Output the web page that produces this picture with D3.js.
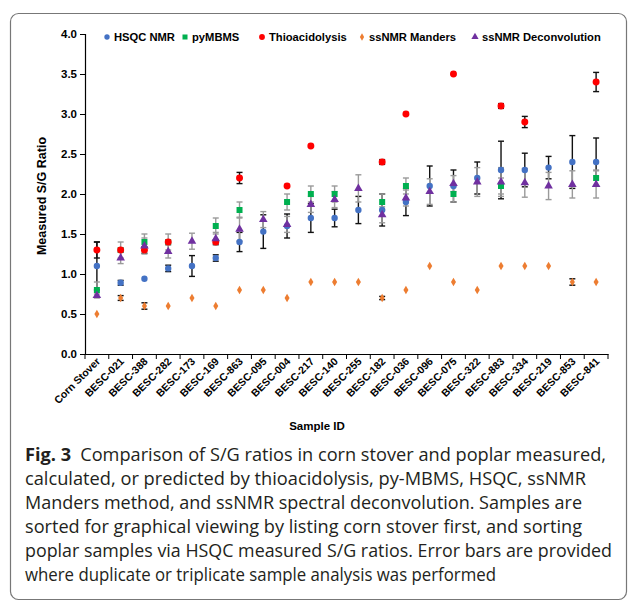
<meta charset="utf-8">
<head>
<script src="https://d3js.org/d3.v7.min.js"></script>
<style>
  body { margin: 0; background: #fff; }
</style>
</head>
<body>
<div id="container"></div>
<script>

var categories = ["Corn Stover","BESC-021","BESC-388","BESC-282","BESC-173","BESC-169","BESC-863","BESC-095",
  "BESC-004","BESC-217","BESC-140","BESC-255","BESC-182","BESC-036","BESC-096","BESC-075","BESC-322",
  "BESC-883","BESC-334","BESC-219","BESC-853","BESC-841"];

var hsqc     = [1.10,0.89,0.94,1.07,1.10,1.20,1.40,1.53,1.60,1.70,1.70,1.80,1.80,1.90,2.10,2.10,2.20,2.30,2.30,2.33,2.40,2.40];
var hsqcErr  = [0.30,0.03,null,0.04,0.13,0.04,0.12,0.21,0.15,0.18,0.11,0.17,0.20,0.17,0.25,0.20,0.20,0.36,0.21,0.14,0.33,0.30];

var pymbms    = [0.80,1.30,1.40,1.40,null,1.60,1.80,null,1.90,2.00,2.00,null,1.90,2.10,null,2.00,null,2.10,null,null,null,2.20];
var pymbmsErr = [0.10,0.10,0.10,0.10,null,0.10,0.10,null,0.10,0.10,0.10,null,0.10,0.10,null,0.10,null,0.10,null,null,null,0.10];

var thio    = [1.30,1.30,1.30,1.40,null,1.40,2.20,null,2.10,2.60,null,null,2.40,3.00,null,3.50,null,3.10,2.90,null,null,3.40];
var thioErr = [0.10,null,0.04,null,null,0.03,0.07,null,null,null,null,null,0.03,null,null,null,null,0.03,0.07,null,null,0.12];

var manders    = [0.50,0.70,0.60,0.60,0.70,0.60,0.80,0.80,0.70,0.90,0.90,0.90,0.70,0.80,1.10,0.90,0.80,1.10,1.10,1.10,0.90,0.90];
var mandersErr = [null,0.03,0.04,null,null,null,null,null,null,null,null,null,0.02,null,null,null,null,null,null,null,0.04,null];

var deconv    = [0.73,1.20,1.35,1.28,1.41,1.44,1.56,1.68,1.62,1.87,1.93,2.07,1.74,1.95,2.03,2.13,2.15,2.15,2.14,2.10,2.12,2.12];
var deconvErr = [0.02,0.07,0.10,0.08,0.10,0.08,0.15,0.10,0.10,0.10,0.10,0.17,0.10,0.10,0.16,0.10,0.18,0.18,0.18,0.17,0.17,0.17];

var yTicks = [0,0.5,1,1.5,2,2.5,3,3.5,4];

var captionLines = [
  "Comparison of S/G ratios in corn stover and poplar measured,",
  "calculated, or predicted by thioacidolysis, py-MBMS, HSQC, ssNMR",
  "Manders method, and ssNMR spectral deconvolution. Samples are",
  "sorted for graphical viewing by listing corn stover first, and sorting",
  "poplar samples via HSQC measured S/G ratios. Error bars are provided",
  "where duplicate or triplicate sample analysis was performed"
];

var series = [
  {name: "HSQC NMR", vals: hsqc, err: hsqcErr, color: "#4472C4", sym: d3.symbolCircle, size: 32, errColor: "#111"},
  {name: "pyMBMS", vals: pymbms, err: pymbmsErr, color: "#00B050", sym: d3.symbolSquare, size: 36, errColor: "#9a9a9a"},
  {name: "Thioacidolysis", vals: thio, err: thioErr, color: "#FF0000", sym: d3.symbolCircle, size: 38, errColor: "#111"},
  {name: "ssNMR Manders", vals: manders, err: mandersErr, color: "#ED7D31", sym: d3.symbolDiamond, size: 22, errColor: "#111"},
  {name: "ssNMR Deconvolution", vals: deconv, err: deconvErr, color: "#7030A0", sym: d3.symbolTriangle, size: 32, errColor: "#9a9a9a"}
];

var chartFont = '"Liberation Sans", Arial, sans-serif';
var width = 629, height = 605;
var svg = d3.select('#container').append('svg')
  .attr('width', width).attr('height', height)
  .style('font-family', chartFont);

// figure frame
svg.append('rect')
  .attr('x', 10.5).attr('y', 13.5)
  .attr('width', 616).attr('height', 586)
  .attr('rx', 8).attr('ry', 8)
  .attr('fill', 'none').attr('stroke', '#777').attr('stroke-width', 1.2);

var x = d3.scaleBand().domain(categories).range([85, 608]);
var y = d3.scaleLinear().domain([0, 4]).range([354, 34]);

// y axis
var yAxis = svg.append('g').attr('transform', 'translate(85,0)')
  .call(d3.axisLeft(y).tickValues(yTicks).tickFormat(d3.format('.1f')).tickSize(5).tickPadding(3));
yAxis.select('.domain').attr('stroke', '#000').attr('stroke-width', 1.2);
yAxis.selectAll('.tick line').attr('stroke', '#000');
yAxis.selectAll('text').attr('font-size', 11.5).attr('font-weight', 'bold').attr('fill', '#000')
  .attr('font-family', chartFont);

// x axis
var xAxis = svg.append('g').attr('transform', 'translate(0,354)')
  .call(d3.axisBottom(x).tickSize(0).tickFormat(''));
xAxis.select('.domain').attr('stroke', '#000').attr('stroke-width', 1.2);
xAxis.selectAll('.tick').remove();
svg.append('g').selectAll('line')
  .data(d3.range(categories.length + 1))
  .join('line')
  .attr('x1', d => 85 + d * x.step()).attr('x2', d => 85 + d * x.step())
  .attr('y1', 354).attr('y2', 359)
  .attr('stroke', '#000');

svg.append('g').selectAll('text')
  .data(categories)
  .join('text')
  .attr('transform', d => 'translate(' + (x(d) + x.bandwidth() / 2 + 4) + ',362) rotate(-45)')
  .attr('text-anchor', 'end')
  .attr('font-size', 10.5)
  .attr('font-weight', 'bold')
  .text(d => d);

// axis titles
svg.append('text')
  .attr('transform', 'translate(46,196) rotate(-90)')
  .attr('text-anchor', 'middle')
  .attr('font-size', 12.5).attr('font-weight', 'bold')
  .text('Measured S/G Ratio');

svg.append('text')
  .attr('x', 317).attr('y', 430)
  .attr('text-anchor', 'middle')
  .attr('font-size', 11.5).attr('font-weight', 'bold')
  .text('Sample ID');

// error bars
var cx = function(i) { return x(categories[i]) + x.bandwidth() / 2; };
series.forEach(function(s) {
  var g = svg.append('g').attr('stroke', s.errColor).attr('stroke-width', 1.4);
  s.vals.forEach(function(v, i) {
    var e = s.err[i];
    if (v == null || e == null) return;
    var c = cx(i);
    g.append('line').attr('x1', c).attr('x2', c).attr('y1', y(v - e)).attr('y2', y(v + e));
    g.append('line').attr('x1', c - 3).attr('x2', c + 3).attr('y1', y(v - e)).attr('y2', y(v - e));
    g.append('line').attr('x1', c - 3).attr('x2', c + 3).attr('y1', y(v + e)).attr('y2', y(v + e));
  });
});

// markers
series.forEach(function(s) {
  var sym = d3.symbol().type(s.sym).size(s.size);
  svg.append('g').selectAll('path')
    .data(s.vals.map((v, i) => ({v: v, i: i})).filter(d => d.v != null))
    .join('path')
    .attr('d', sym)
    .attr('transform', d => 'translate(' + cx(d.i) + ',' + y(d.v) + ')')
    .attr('fill', s.color);
});

// legend
var legendX = [107, 185, 262, 362, 475];
var legend = svg.append('g');
series.forEach(function(s, k) {
  legend.append('path')
    .attr('d', d3.symbol().type(s.sym).size(s.size * 0.7))
    .attr('transform', 'translate(' + legendX[k] + ',37)')
    .attr('fill', s.color);
  legend.append('text')
    .attr('x', legendX[k] + 7).attr('y', 41)
    .attr('font-size', 11.2).attr('font-weight', 'bold')
    .text(s.name);
});

// caption
var capW = [581, 561, 557, 557, 587, 471];
var cap = svg.append('g').attr('font-size', 18).attr('fill', '#231f20')
  .style('font-family', '"Open Sans", "Noto Sans", sans-serif');
captionLines.forEach(function(line, k) {
  var t = cap.append('text')
    .attr('x', 25).attr('y', 461 + k * 24)
    .attr('textLength', capW[k]).attr('lengthAdjust', 'spacingAndGlyphs');
  if (k === 0) {
    t.append('tspan').attr('font-weight', 'bold').text('Fig. 3');
    t.append('tspan').text('\u2002' + line);
  } else {
    t.text(line);
  }
});

</script>
</body>
